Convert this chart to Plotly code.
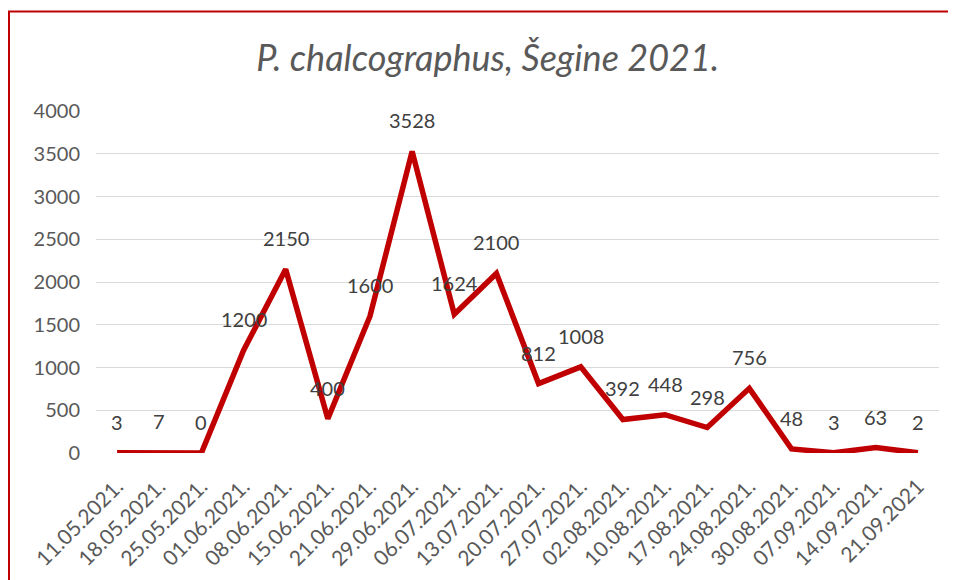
import plotly.graph_objects as go

dates = ["11.05.2021.", "18.05.2021.", "25.05.2021.", "01.06.2021.", "08.06.2021.",
         "15.06.2021.", "21.06.2021.", "29.06.2021.", "06.07.2021.", "13.07.2021.",
         "20.07.2021.", "27.07.2021.", "02.08.2021.", "10.08.2021.", "17.08.2021.",
         "24.08.2021.", "30.08.2021.", "07.09.2021.", "14.09.2021.", "21.09.2021"]
counts = [3, 7, 0, 1200, 2150, 400, 1600, 3528, 1624, 2100, 812, 1008,
          392, 448, 298, 756, 48, 3, 63, 2]
y_ticks = [0, 500, 1000, 1500, 2000, 2500, 3000, 3500, 4000]

FONT = "Lato"
RED = "#C00000"

fig = go.Figure()
fig.add_trace(go.Scatter(
    x=dates, y=counts, mode="lines",
    line=dict(color=RED, width=5.5),
    hoverinfo="x+y", showlegend=False,
))

for d, v in zip(dates, counts):
    fig.add_annotation(x=d, y=v, text=str(v), showarrow=False, yshift=31,
                       font=dict(family=FONT, size=20, color="#404040"))

fig.update_layout(
    width=948, height=572,
    margin=dict(l=88, r=17, t=103, b=127),
    paper_bgcolor="white", plot_bgcolor="white",
    title=dict(text="<i>P. chalcographus, Šegine 2021.</i>", x=0.506, xanchor="center",
               y=0.9126, yanchor="middle",
               font=dict(family=FONT, size=36, color="#595959")),
    xaxis=dict(type="category", range=[-0.5, len(dates) - 0.5],
               showgrid=False, showline=False, ticks="",
               tickangle=-45, automargin=False, ticklabelstandoff=16,
               tickfont=dict(family=FONT, size=21, color="#595959")),
    yaxis=dict(range=[0, 4000], tickvals=y_ticks, showgrid=True, gridcolor="#D9D9D9",
               gridwidth=1, zeroline=False, showline=False, ticks="", automargin=False,
               tickfont=dict(family=FONT, size=20, color="#595959"), ticklabelstandoff=15),
    shapes=[dict(type="rect", xref="paper", yref="paper",
                 x0=-0.1032, x1=1.019, y0=-0.45, y1=1.291,
                 line=dict(color=RED, width=2), fillcolor="rgba(0,0,0,0)", layer="below")],
)

fig.write_html("out.html")
